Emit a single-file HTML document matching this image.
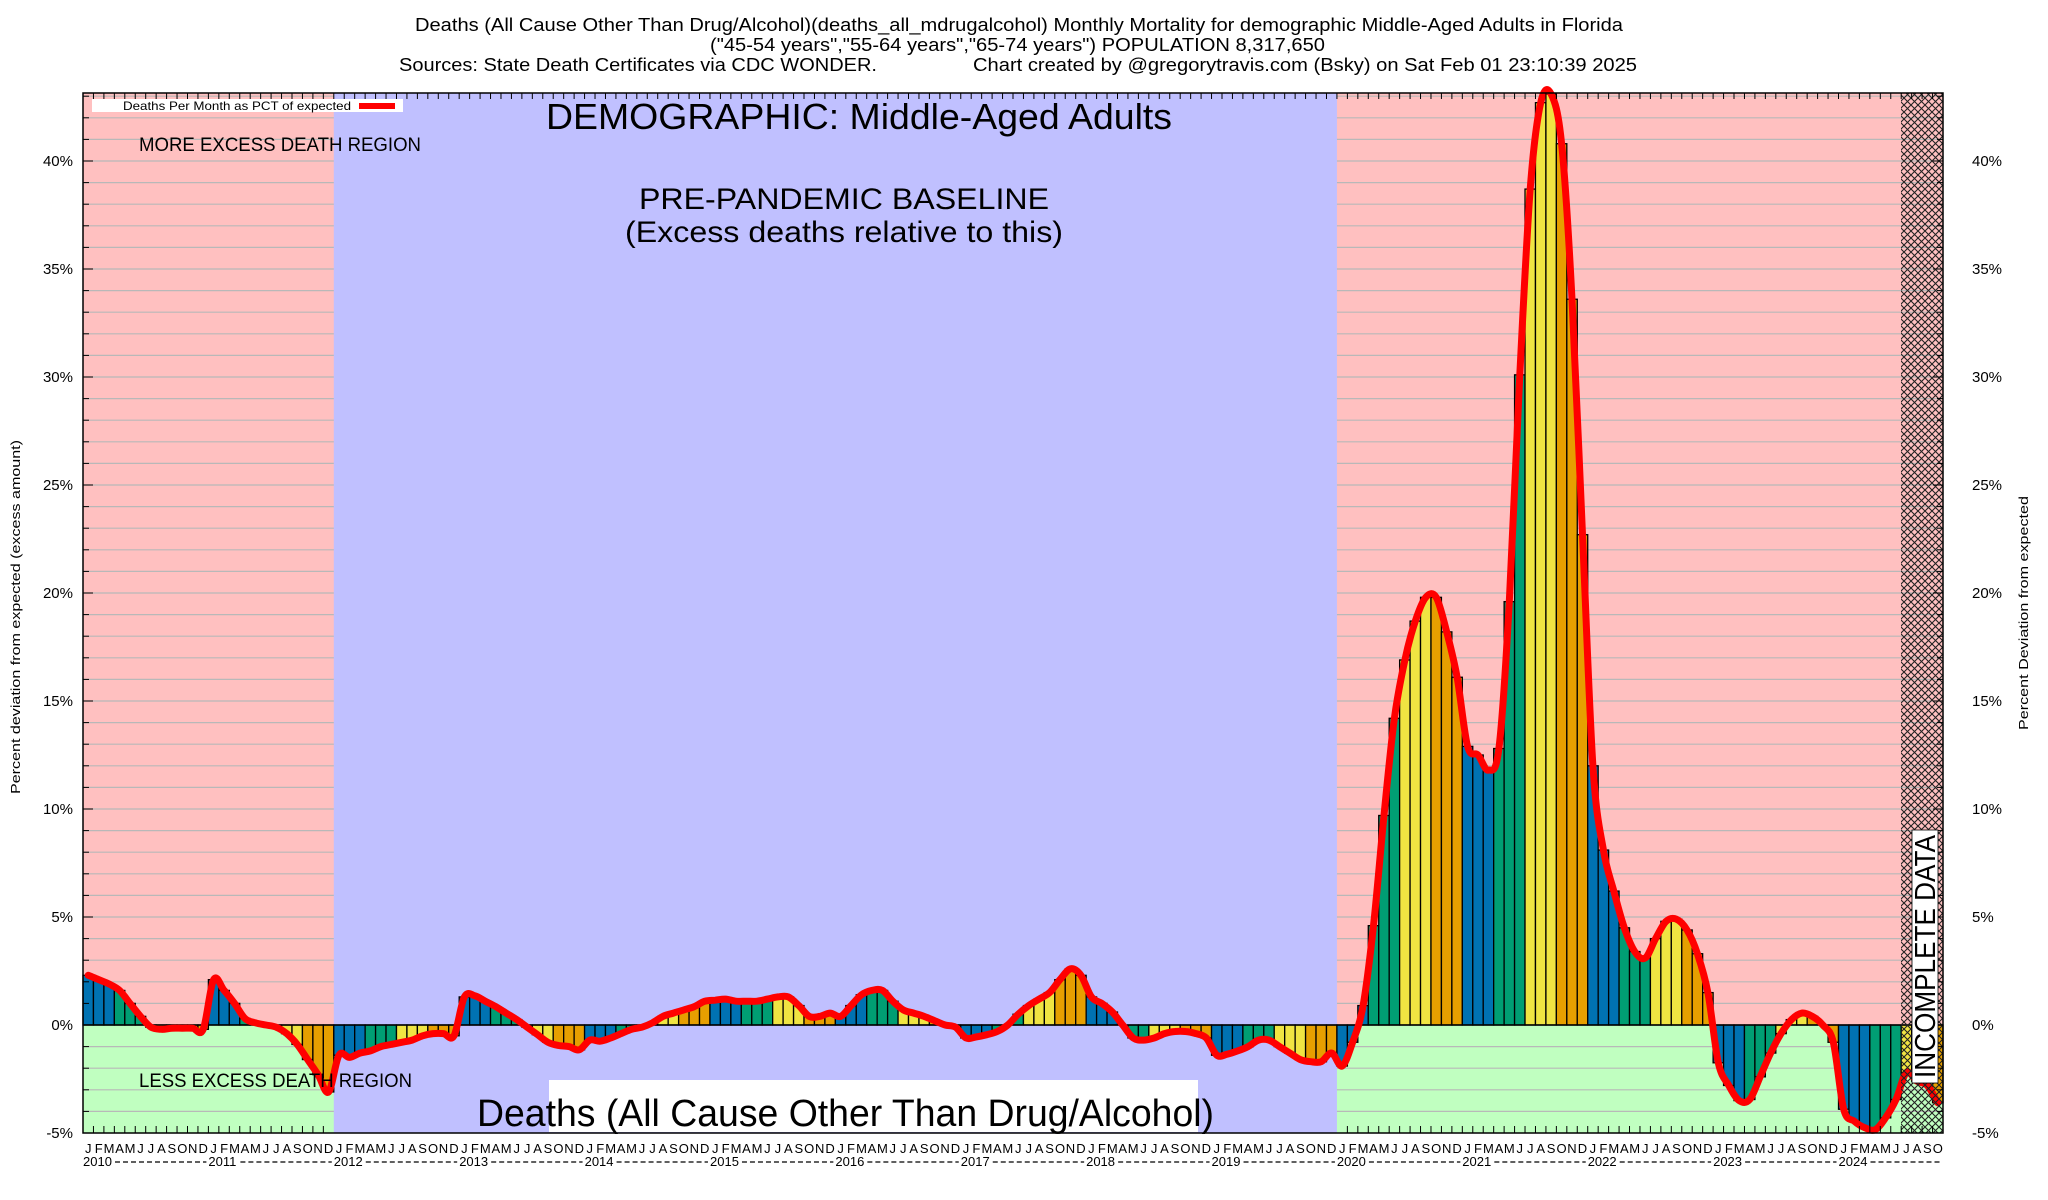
<!DOCTYPE html>
<html><head><meta charset="utf-8"><style>
html,body{margin:0;padding:0;background:#fff;}
svg{display:block;font-family:"Liberation Sans",Arial,sans-serif;}
</style></head><body>
<svg id="c" width="2048" height="1200" viewBox="0 0 2048 1200" xmlns="http://www.w3.org/2000/svg">
<defs>
<pattern id="hatch" width="7" height="7" patternUnits="userSpaceOnUse">
<path d="M0,0L7,7M7,0L0,7" stroke="#222" stroke-width="1.1"/>
</pattern>
</defs>
<g font-size="18" text-anchor="start" fill="#000">
<text x="415" y="31" textLength="1208" lengthAdjust="spacingAndGlyphs">Deaths (All Cause Other Than Drug/Alcohol)(deaths_all_mdrugalcohol) Monthly Mortality for demographic Middle-Aged Adults in Florida</text>
<text x="710" y="51" textLength="615" lengthAdjust="spacingAndGlyphs">("45-54 years","55-64 years","65-74 years") POPULATION 8,317,650</text>
<text x="399" y="71" textLength="478" lengthAdjust="spacingAndGlyphs">Sources: State Death Certificates via CDC WONDER.</text>
<text x="973" y="71" textLength="664" lengthAdjust="spacingAndGlyphs">Chart created by @gregorytravis.com (Bsky) on Sat Feb 01 23:10:39 2025</text>
</g>
<g id="bg"></g>
<g id="bars"></g>
<path id="line" fill="none" stroke="#ff0000" stroke-width="7" stroke-linejoin="round" stroke-linecap="round"/>
<rect x="1901" y="93" width="42" height="1040" fill="url(#hatch)"/>
<g id="ax"></g>
<rect x="92" y="99" width="311" height="13" fill="#fff"/>
<text x="123" y="110" font-size="12" textLength="228" lengthAdjust="spacingAndGlyphs">Deaths Per Month as PCT of expected</text>
<rect x="359" y="103" width="36" height="6" fill="#ff0000"/>
<text x="546" y="129" font-size="36" textLength="626" lengthAdjust="spacingAndGlyphs">DEMOGRAPHIC: Middle-Aged Adults</text>
<text x="139" y="151" font-size="19" textLength="282" lengthAdjust="spacingAndGlyphs">MORE EXCESS DEATH REGION</text>
<text x="639" y="209" font-size="30" textLength="410" lengthAdjust="spacingAndGlyphs">PRE-PANDEMIC BASELINE</text>
<text x="625" y="242" font-size="30" textLength="438" lengthAdjust="spacingAndGlyphs">(Excess deaths relative to this)</text>
<text x="139" y="1087" font-size="19" textLength="273" lengthAdjust="spacingAndGlyphs">LESS EXCESS DEATH REGION</text>
<rect x="549" y="1080" width="649" height="52" fill="#fff"/>
<text x="477" y="1126" font-size="38" textLength="737" lengthAdjust="spacingAndGlyphs">Deaths (All Cause Other Than Drug/Alcohol)</text>
<rect x="1912" y="830" width="26" height="253" fill="#fff" stroke="#000" stroke-width="0.8"/>
<text transform="translate(1935,1078) rotate(-90)" font-size="29" textLength="243" lengthAdjust="spacingAndGlyphs">INCOMPLETE DATA</text>
<text transform="translate(20,794) rotate(-90)" font-size="13" textLength="354" lengthAdjust="spacingAndGlyphs">Percent deviation from expected (excess amount)</text>
<text transform="translate(2028,730) rotate(-90)" font-size="13" textLength="234" lengthAdjust="spacingAndGlyphs">Percent Deviation from expected</text>
<g font-size="15" id="ylab">
<text x="73" y="166" text-anchor="end">40%</text><text x="1972" y="166">40%</text>
<text x="73" y="274" text-anchor="end">35%</text><text x="1972" y="274">35%</text>
<text x="73" y="382" text-anchor="end">30%</text><text x="1972" y="382">30%</text>
<text x="73" y="490" text-anchor="end">25%</text><text x="1972" y="490">25%</text>
<text x="73" y="598" text-anchor="end">20%</text><text x="1972" y="598">20%</text>
<text x="73" y="706" text-anchor="end">15%</text><text x="1972" y="706">15%</text>
<text x="73" y="814" text-anchor="end">10%</text><text x="1972" y="814">10%</text>
<text x="73" y="922" text-anchor="end">5%</text><text x="1972" y="922">5%</text>
<text x="73" y="1030" text-anchor="end">0%</text><text x="1972" y="1030">0%</text>
<text x="73" y="1138" text-anchor="end">-5%</text><text x="1972" y="1138">-5%</text>
</g>
<g font-size="13" id="xlab">
<text x="84" y="1153">J FMAMJ JASOND</text>
</g>
</svg>
<script>
(function(){
var NS="http://www.w3.org/2000/svg";
function el(p,t,a,txt){var e=document.createElementNS(NS,t);for(var k in a)e.setAttribute(k,a[k]);if(txt!=null)e.textContent=txt;p.appendChild(e);return e;}
var L=83,R=1943,T=93,B=1133,Z=1025,P=21.6,W=(R-L)/178;
var d=[2.3,2.1,1.9,1.6,1.0,0.4,-0.1,-0.2,-0.15,-0.15,-0.15,-0.2,
2.1,1.6,1.0,0.3,0.1,0.0,-0.1,-0.4,-0.9,-1.6,-2.3,-3.1,
-1.4,-1.5,-1.3,-1.2,-1.0,-0.9,-0.8,-0.7,-0.5,-0.4,-0.4,-0.5,
1.3,1.35,1.1,0.85,0.55,0.25,-0.1,-0.45,-0.8,-0.95,-1.0,-1.15,
-0.7,-0.75,-0.6,-0.4,-0.2,-0.1,0.1,0.4,0.55,0.7,0.85,1.1,
1.15,1.2,1.1,1.1,1.1,1.2,1.3,1.3,0.9,0.4,0.4,0.55,
0.4,0.9,1.4,1.6,1.6,1.1,0.7,0.55,0.4,0.2,0.0,-0.1,
-0.6,-0.55,-0.45,-0.3,0.0,0.5,0.9,1.2,1.5,2.1,2.6,2.3,
1.3,1.0,0.6,0.0,-0.6,-0.7,-0.6,-0.4,-0.3,-0.3,-0.4,-0.6,
-1.4,-1.35,-1.2,-1.0,-0.7,-0.7,-1.0,-1.3,-1.6,-1.7,-1.7,-1.3,
-1.9,-0.8,0.9,4.6,9.7,14.2,16.9,18.7,19.8,19.8,18.2,16.1,
12.9,12.5,11.8,12.8,19.6,30.1,38.7,42.7,43.1,40.8,33.6,22.7,
12.0,8.1,6.2,4.5,3.4,3.1,4.0,4.8,4.9,4.4,3.3,1.5,
-1.75,-2.8,-3.5,-3.45,-2.4,-1.3,-0.4,0.25,0.55,0.4,0.0,-0.8,
-3.9,-4.45,-4.75,-4.85,-4.3,-3.45,-2.2,-2.6,-2.8,-3.6];
var bg=document.getElementById('bg');
var b1=L+24*W,b2=L+120*W;
el(bg,'rect',{x:L,y:T,width:R-L,height:Z-T,fill:'#ffc0c0'});
el(bg,'rect',{x:L,y:Z,width:R-L,height:B-Z,fill:'#c0ffc0'});
for(var p=-4;p<=43;p++){if(p==0)continue;var y=Z-p*P;
el(bg,'line',{x1:L,x2:R,y1:y,y2:y,stroke:'#b8b8b8','stroke-width':1.2});}
el(bg,'rect',{x:b1,y:T,width:b2-b1,height:B-T,fill:'#c0c0ff'});
var cols=['#0072b2','#009e73','#f0e442','#e69f00'];
var bars=document.getElementById('bars');
for(var i=0;i<d.length;i++){var x=L+i*W,y=Z-d[i]*P;var c=cols[Math.floor((i%12)/3)];
el(bars,'rect',{x:x.toFixed(2),y:Math.min(y,Z).toFixed(2),width:W.toFixed(2),height:Math.abs(Z-y).toFixed(2),fill:c,stroke:'#000','stroke-width':1.3});}
el(bars,'line',{x1:L,x2:R,y1:Z,y2:Z,stroke:'#000','stroke-width':1.5});
var pts=d.map(function(v,i){return [L+(i+0.5)*W,Z-v*P];});
var s='M'+pts[0][0].toFixed(1)+','+pts[0][1].toFixed(1);
for(var i=0;i<pts.length-1;i++){var p0=pts[Math.max(0,i-1)],p1=pts[i],p2=pts[i+1],p3=pts[Math.min(pts.length-1,i+2)];
var c1=[p1[0]+(p2[0]-p0[0])/6,p1[1]+(p2[1]-p0[1])/6],c2=[p2[0]-(p3[0]-p1[0])/6,p2[1]-(p3[1]-p1[1])/6];
s+='C'+c1[0].toFixed(1)+','+c1[1].toFixed(1)+' '+c2[0].toFixed(1)+','+c2[1].toFixed(1)+' '+p2[0].toFixed(1)+','+p2[1].toFixed(1);}
document.getElementById('line').setAttribute('d',s);
var ax=document.getElementById('ax');
el(ax,'rect',{x:L,y:T,width:R-L,height:B-T,fill:'none',stroke:'#000','stroke-width':1.5});
for(var p=-5;p<=43;p++){var y=Z-p*P,len=(p%5==0)?10:6;
el(ax,'line',{x1:L,x2:L+len,y1:y,y2:y,stroke:'#000','stroke-width':1});
el(ax,'line',{x1:R-len,x2:R,y1:y,y2:y,stroke:'#000','stroke-width':1});}
for(var i=0;i<=178;i++){var x=L+i*W;
el(ax,'line',{x1:x,x2:x,y1:T,y2:T+6,stroke:'#000','stroke-width':1});
if(x<b1-1||x>b2+1)el(ax,'line',{x1:x,x2:x,y1:B-7,y2:B,stroke:'#000','stroke-width':1});}
var xl=document.getElementById('xlab');xl.innerHTML='';
var m='JFMAMJJASOND';
for(var i=0;i<178;i++){el(xl,'text',{x:(L+i*W+W/2).toFixed(1),y:1153,'text-anchor':'middle'},m[i%12]);}
for(var yr=0;yr<15;yr++){var x=L+yr*12*W;el(xl,'text',{x:x.toFixed(1),y:1166},String(2010+yr));
var xe=Math.min(L+(yr+1)*12*W,R)-2;el(xl,'line',{x1:x+32,x2:xe,y1:1162,y2:1162,stroke:'#000','stroke-width':1.3,'stroke-dasharray':'5,3'});}
})();
</script>
</body></html>
